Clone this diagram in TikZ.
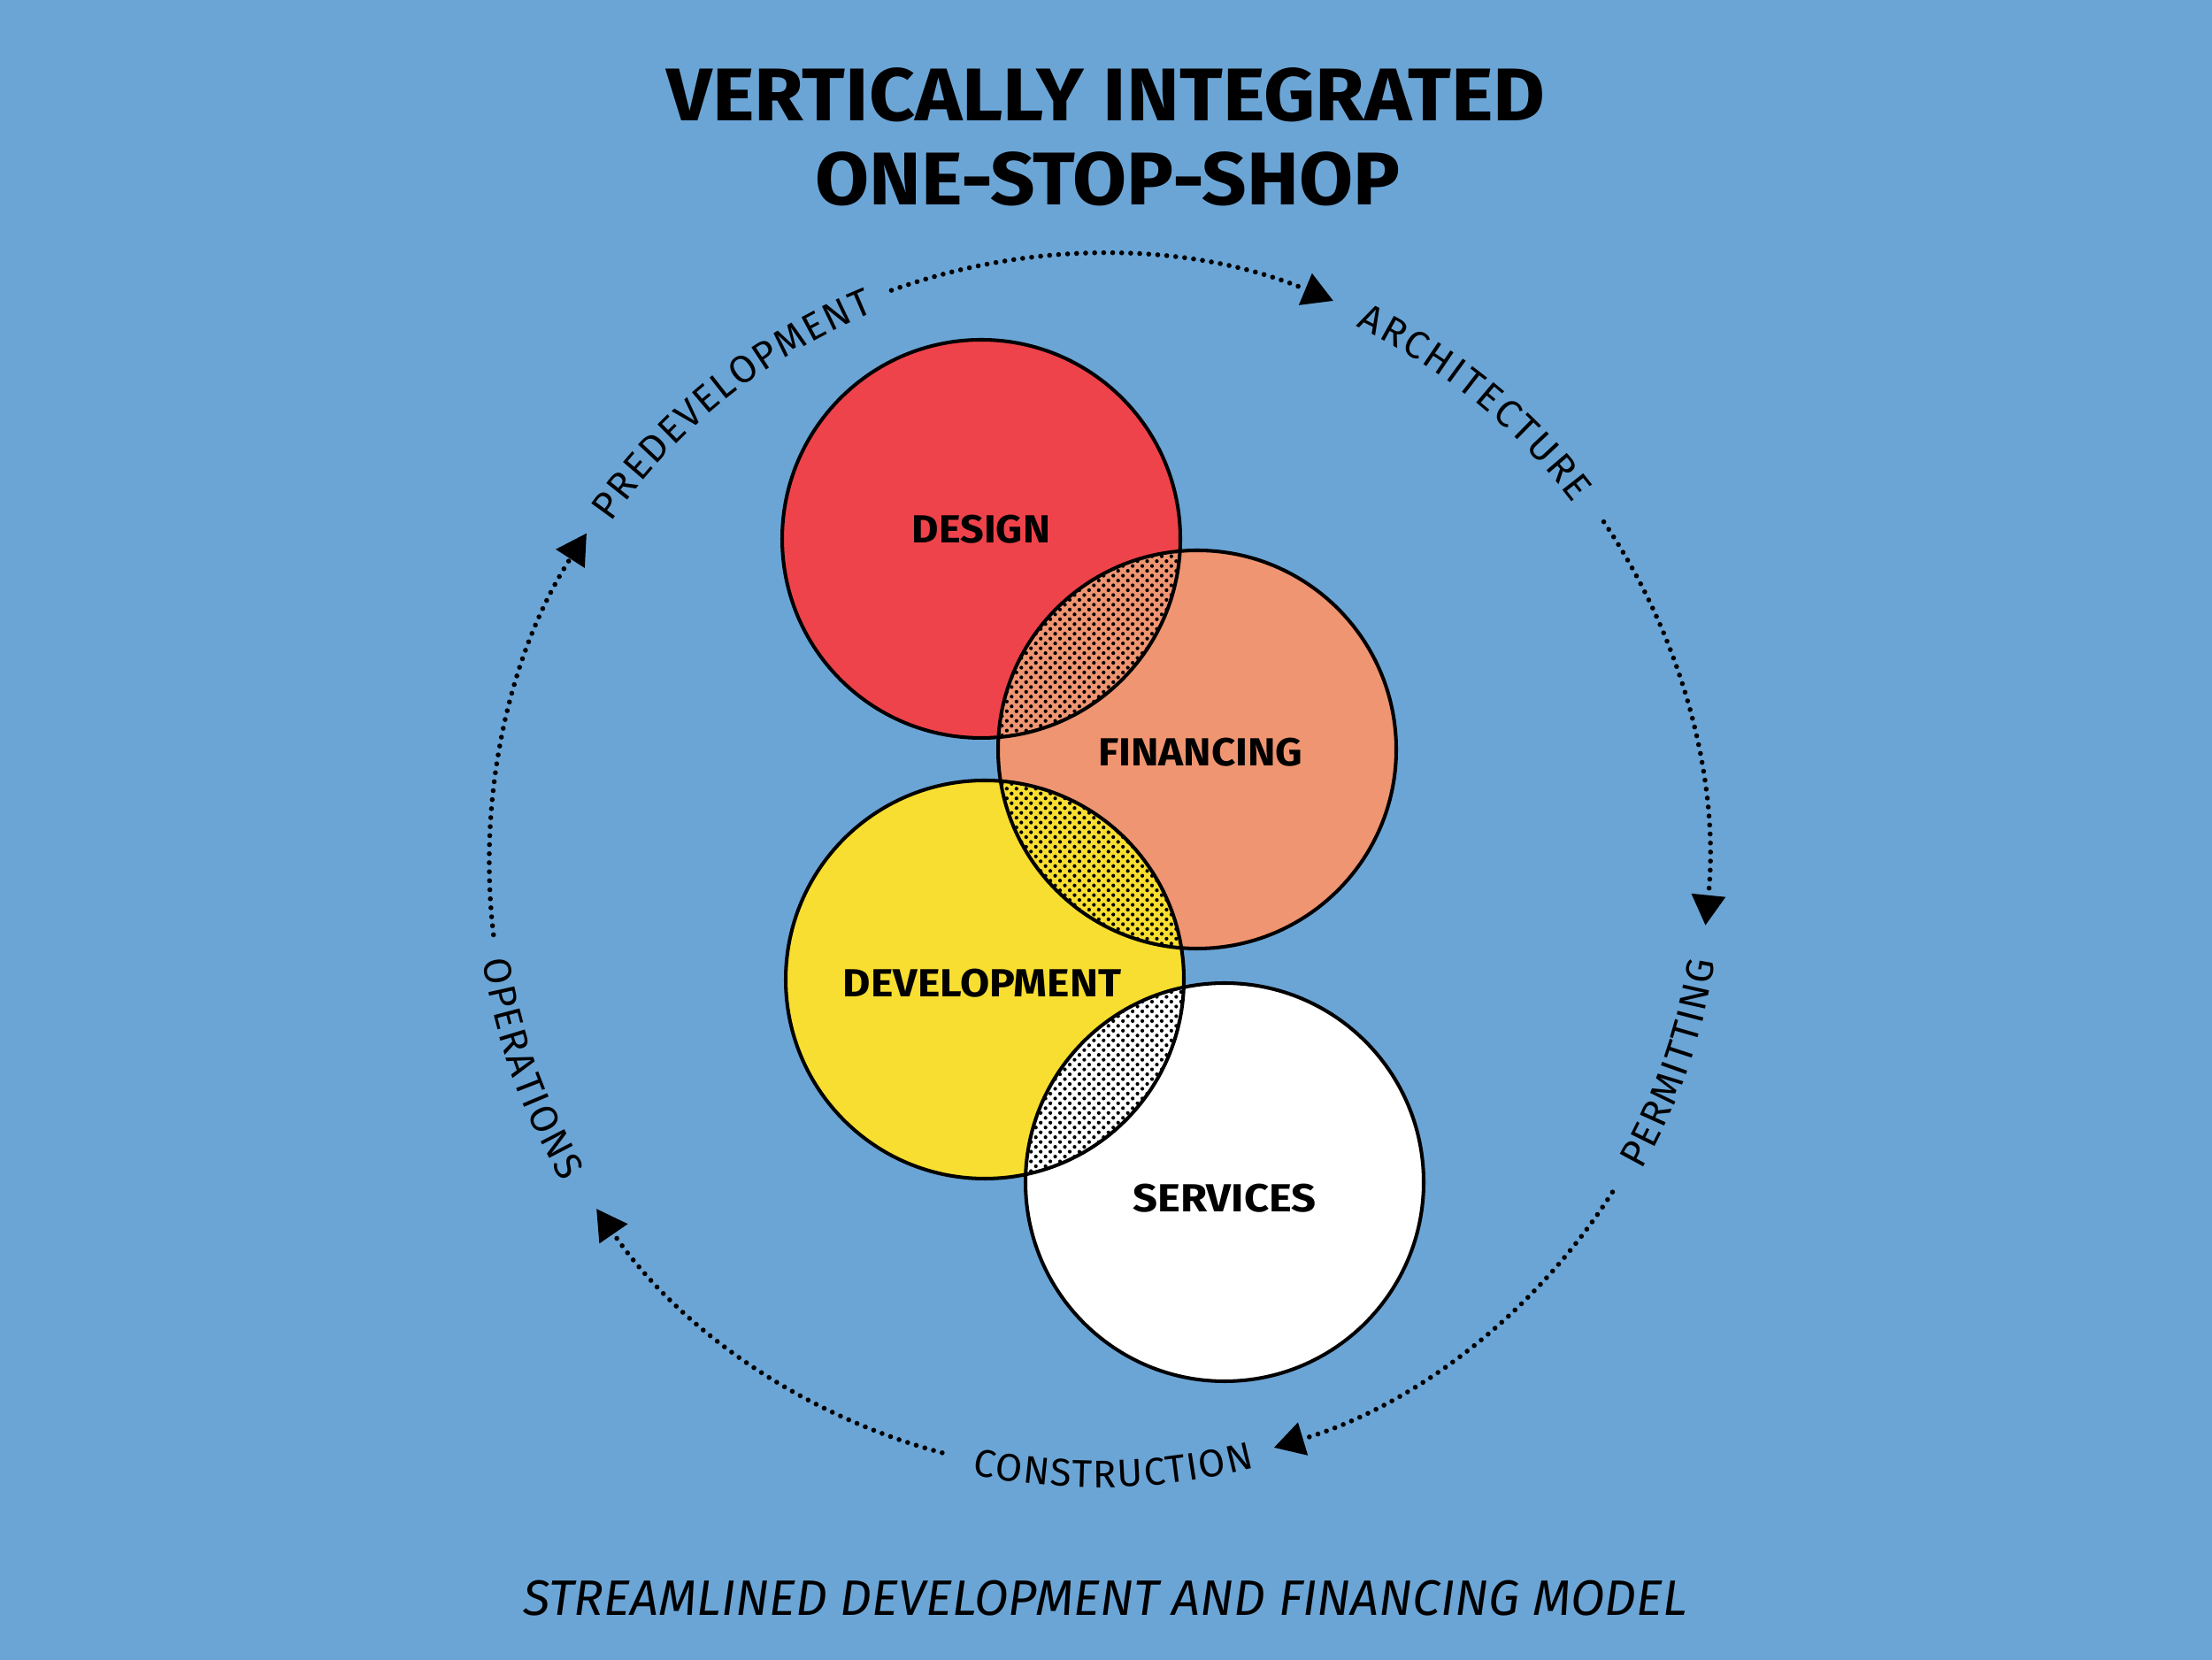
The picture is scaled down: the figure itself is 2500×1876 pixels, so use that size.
\documentclass[tikz,border=0pt]{standalone}
\usepackage{fontspec}
\setmainfont{Fira Sans}
\usetikzlibrary{arrows.meta,decorations.text,patterns.meta}
\definecolor{bgblue}{RGB}{107,165,214}
\definecolor{designred}{RGB}{239,67,75}
\definecolor{finsalmon}{RGB}{239,149,114}
\definecolor{devyellow}{RGB}{248,222,48}
\newcommand\fitto[2]{\resizebox{#1}{\height}{#2}}
\newcommand\arcfont{\fontsize{12.4}{15}\selectfont}
\begin{document}
\begin{tikzpicture}[x=0.01cm,y=0.01cm,
  vennline/.style={draw=black, line width=1.15pt},
  lens/.style={pattern={Dots[angle=45,distance=2.2pt,radius=0.6pt]}, pattern color=black},
  vlabel/.style={inner sep=0pt, font=\bfseries\fontsize{12.6}{14}\selectfont},
  titlestyle/.style={inner sep=0pt, font=\bfseries\fontsize{24}{28}\selectfont},
  capstyle/.style={inner sep=0pt, font=\itshape\fontsize{16}{18}\selectfont},
  flow/.style={line width=1.6pt, line cap=round, dash pattern=on 0pt off 2.9pt,
    -{Triangle[length=0.34cm,width=0.39cm,line width=0pt]}},
  arclabel/.style={decorate, decoration={text along path, text align={fit to path}, raise=-0.16cm}}
]
\fill[bgblue] (0,0) rectangle (2500,1876);
\useasboundingbox (0,0) rectangle (2500,1876);

% centres
\coordinate (C) at (1242,900);
\coordinate (cD) at (1109,1267);
\coordinate (cF) at (1353,1029);
\coordinate (cV) at (1113,769);
\coordinate (cS) at (1384,540);

% circle fills
\fill[designred] (cD) circle[radius=225];
\fill[finsalmon] (cF) circle[radius=225];
\fill[devyellow] (cV) circle[radius=225];
\fill[white] (cS) circle[radius=225];

% dotted lenses
\begin{scope}
  \clip (cD) circle[radius=225];
  \fill[lens] (cF) circle[radius=225];
\end{scope}
\begin{scope}
  \clip (cF) circle[radius=225];
  \fill[lens] (cV) circle[radius=225];
\end{scope}
\begin{scope}
  \clip (cV) circle[radius=225];
  \fill[lens] (cS) circle[radius=225];
\end{scope}

% outlines
\draw[vennline] (cD) circle[radius=225];
\draw[vennline] (cF) circle[radius=225];
\draw[vennline] (cV) circle[radius=225];
\draw[vennline] (cS) circle[radius=225];

% circle labels
\node[vlabel] (design) at (1109,1278) {\fitto{1.56cm}{DESIGN}};
\node[vlabel] (financing) at (1357,1026) {\fitto{2.31cm}{FINANCING}};
\node[vlabel] (development) at (1110,765) {\fitto{3.14cm}{DEVELOPMENT}};
\node[vlabel] (services) at (1384,522) {\fitto{2.07cm}{SERVICES}};

% titles
\node[titlestyle] (title1) at (1250,1769) {\fitto{9.92cm}{VERTICALLY INTEGRATED}};
\node[titlestyle] (title2) at (1252,1674) {\fitto{6.60cm}{ONE-STOP-SHOP}};
\node[capstyle] (caption) at (1249,70) {\fitto{13.15cm}{STREAMLINED DEVELOPMENT AND FINANCING MODEL}};

% cycle arrows
\coordinate (a1s) at ([shift={(109.9:689)}]C);
\coordinate (a2s) at ([shift={(34.1:689)}]C);
\coordinate (a3s) at ([shift={(-32.6:689)}]C);
\coordinate (a4s) at ([shift={(255.1:689)}]C);
\coordinate (a5s) at ([shift={(186.7:689)}]C);
\draw[flow] (a1s) arc[start angle=109.9, end angle=67.4, radius=689];
\draw[flow] (a2s) arc[start angle=34.1, end angle=-5.8, radius=689];
\draw[flow] (a3s) arc[start angle=-32.6, end angle=-73.3, radius=689];
\draw[flow] (a4s) arc[start angle=255.1, end angle=214.5, radius=689];
\draw[flow] (a5s) arc[start angle=186.7, end angle=147.2, radius=689];

% arc labels
\path[arclabel, decoration={text={|\arcfont|PREDEVELOPMENT}}]
  ([shift={(145:689)}]C) arc[start angle=145, end angle=112.2, radius=689];
\path[arclabel, decoration={text={|\arcfont|ARCHITECTURE}}]
  ([shift={(64.4:689)}]C) arc[start angle=64.4, end angle=37.2, radius=689];
\path[arclabel, decoration={text={|\arcfont|PERMITTING}}]
  ([shift={(-29.5:689)}]C) arc[start angle=-29.5, end angle=-9.0, radius=689];
\path[arclabel, decoration={text={|\arcfont|CONSTRUCTION}}]
  ([shift={(-101.8:689)}]C) arc[start angle=-101.8, end angle=-75.5, radius=689];
\path[arclabel, decoration={text={|\arcfont|OPERATIONS}}]
  ([shift={(188.9:689)}]C) arc[start angle=188.9, end angle=210.7, radius=689];
\end{tikzpicture}
\end{document}
